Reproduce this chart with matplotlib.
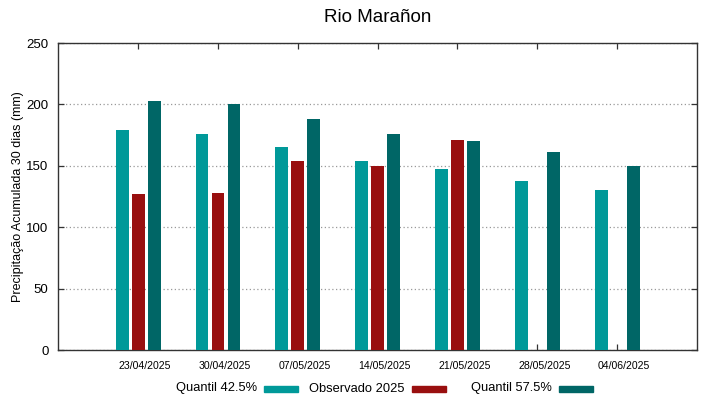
import matplotlib
matplotlib.use("Agg")
import matplotlib.pyplot as plt
from matplotlib.patches import Rectangle
import numpy as np

plt.rcParams['font.family'] = ['Liberation Sans', 'DejaVu Sans']

dates = ["23/04/2025", "30/04/2025", "07/05/2025", "14/05/2025",
         "21/05/2025", "28/05/2025", "04/06/2025"]
q425 = [179, 176, 165, 154, 147, 138, 130]
observado = [127, 128, 154, 150, 171, np.nan, np.nan]
q575 = [203, 200, 188, 176, 170, 161, 150]

labels = ["Quantil 42.5%", "Observado 2025", "Quantil 57.5%"]
colors = ["#009999", "#990f0f", "#006666"]

fig = plt.figure(figsize=(7.19, 3.99), dpi=100)
ax = fig.add_axes([0.0811, 0.1228, 0.9694 - 0.0811, 0.8922 - 0.1228])

x = np.arange(1, len(dates) + 1)
w = 0.16
off = 0.2
for i, (vals, c) in enumerate(zip([q425, observado, q575], colors)):
    ax.bar(x + (i - 1) * off, vals, width=w, color=c, zorder=3, linewidth=0)

ax.set_xlim(0, 8)
ax.set_ylim(0, 250)
ax.set_yticks([0, 50, 100, 150, 200, 250])
# tick marks at group centres, labels drawn slightly to the right (gnuplot style)
ax.set_xticks(x)
ax.set_xticklabels([])
ax.set_xticks(x + 0.088, minor=True)
ax.set_xticklabels(dates, minor=True, fontsize=7.6)

ax.tick_params(axis='x', which='major', direction='in', top=True, length=4,
               width=0.9, color='#333333')
ax.tick_params(axis='x', which='minor', length=0, pad=8)
ax.tick_params(axis='y', direction='in', right=True, length=4, pad=7, width=0.9,
               labelsize=9.5, color='#333333')
for sp in ax.spines.values():
    sp.set_color('#333333')
    sp.set_linewidth(1.0)

ax.yaxis.grid(True, color='#999999', linestyle=(0, (1, 2)), linewidth=0.9, zorder=0)
ax.set_axisbelow(True)

ax.set_title("Rio Marañon", fontsize=13.5, pad=15)
ax.set_ylabel("Precipitação Acumulada 30 dias (mm)", fontsize=9, labelpad=1.5)

# legend, gnuplot style: right-justified text followed by colour sample
W, H = 719.0, 399.0
text_right = [257, 404.5, 552]
sample_left = [264, 412, 559]
baseline = 391.5
for lab, c, tr, sl in zip(labels, colors, text_right, sample_left):
    fig.text(tr / W, 1 - baseline / H, lab, ha='right', va='baseline', fontsize=9.3)
    fig.patches.append(Rectangle((sl / W, 1 - 392 / H), 33.5 / W, 6 / H,
                                 transform=fig.transFigure, color=c, figure=fig))

fig.savefig("out.png", dpi=100)
